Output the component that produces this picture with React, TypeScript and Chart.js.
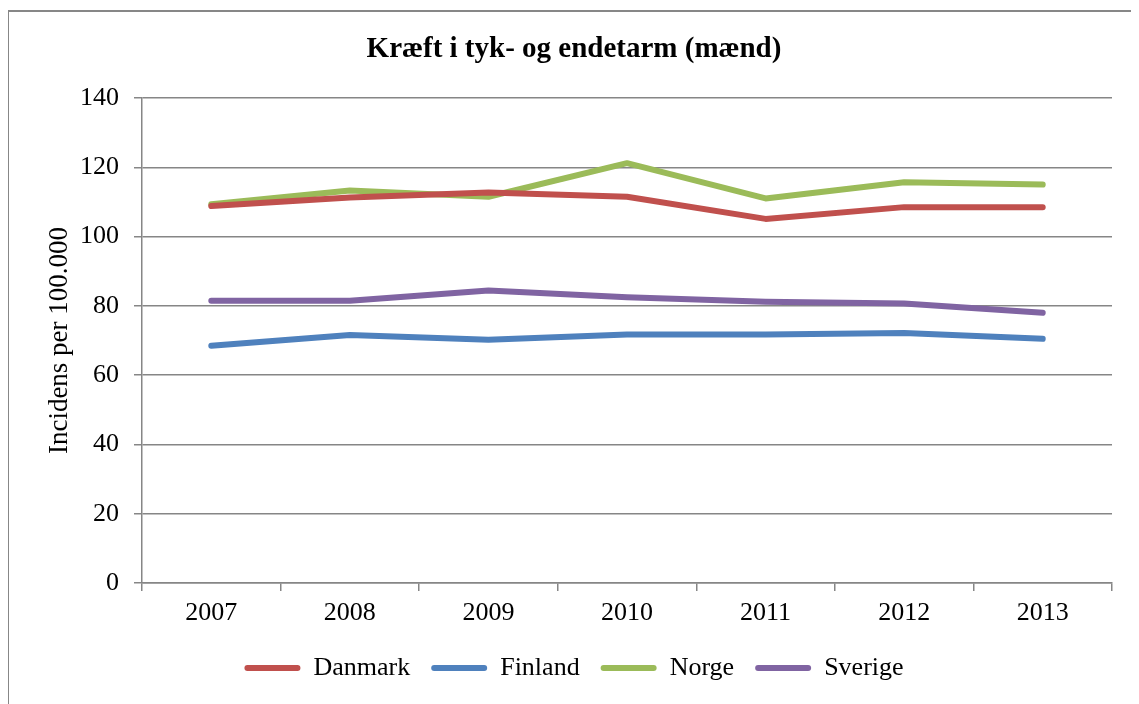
import React, { useEffect, useRef } from "react";
import { Chart, registerables } from "chart.js";

Chart.register(...registerables);

const years = ["2007", "2008", "2009", "2010", "2011", "2012", "2013"];
const danmark = [108.8, 111.3, 112.7, 111.5, 105.1, 108.5, 108.5];
const finland = [68.5, 71.6, 70.2, 71.7, 71.7, 72.2, 70.5];
const norge = [109.3, 113.3, 111.5, 121.2, 111.0, 115.7, 115.0];
const sverige = [81.5, 81.5, 84.4, 82.5, 81.2, 80.7, 78.0];

const seriesNames = ["Danmark", "Finland", "Norge", "Sverige"];
const seriesColors = ["#C0504D", "#4F81BD", "#9BBB59", "#8064A2"];
const yTicks = [0, 20, 40, 60, 80, 100, 120, 140];

const FONT = "'Liberation Serif', 'Times New Roman', serif";
const GRID = "#868686";

export default function App() {
  const ref = useRef<HTMLCanvasElement | null>(null);

  useEffect(() => {
    document.documentElement.style.overflow = "hidden";
    document.body.style.overflow = "hidden";
    const values = [danmark, finland, norge, sverige];
    const chart = new Chart(ref.current!, {
      type: "line",
      data: {
        labels: years,
        datasets: values.map((d, i) => ({
          label: seriesNames[i],
          data: d,
          borderColor: seriesColors[i],
          backgroundColor: seriesColors[i],
          borderWidth: 6,
          borderCapStyle: "round",
          borderJoinStyle: "round",
          pointRadius: 0,
          tension: 0,
        })),
      },
      options: {
        animation: false,
        responsive: false,
        maintainAspectRatio: false,
        layout: { padding: { left: 0, right: 0, top: 0, bottom: 13 } },
        plugins: {
          title: {
            display: true,
            text: "Kræft i tyk- og endetarm (mænd)",
            color: "#000",
            font: { family: FONT, size: 29, weight: "bold", lineHeight: 1.2 },
            padding: { top: 20, bottom: 31.2 },
          },
          legend: {
            position: "bottom",
            labels: {
              boxWidth: 56,
              boxHeight: 6,
              padding: 21,
              color: "#000",
              font: { family: FONT, size: 26 },
              useBorderRadius: true,
              borderRadius: 3,
              generateLabels: (c: any) =>
                c.data.datasets.map((ds: any, i: number) => ({
                  text: ds.label,
                  fillStyle: ds.borderColor,
                  strokeStyle: ds.borderColor,
                  lineWidth: 0,
                  hidden: false,
                  datasetIndex: i,
                  borderRadius: 3,
                  fontColor: "#000",
                })),
            },
          },
          tooltip: { enabled: false },
        },
        scales: {
          x: {
            offset: true,
            grid: {
              drawOnChartArea: false,
              drawTicks: true,
              tickLength: 8,
              color: GRID,
              lineWidth: 1.5,
              offset: true,
            },
            border: { display: true, color: GRID, width: 1.5 },
            ticks: { color: "#000", font: { family: FONT, size: 26 }, padding: 7 },
            afterFit: (s: any) => {
              s.height = 51;
            },
          },
          y: {
            min: 0,
            max: 140,
            afterBuildTicks: (s: any) => {
              s.ticks = yTicks.map((v) => ({ value: v }));
            },
            ticks: { color: "#000", font: { family: FONT, size: 26 }, padding: 15 },
            grid: { color: GRID, lineWidth: 1.5, tickLength: 8 },
            border: { display: true, color: GRID, width: 1.5 },
            title: {
              display: true,
              text: "Incidens per 100.000",
              color: "#000",
              font: { family: FONT, size: 27 },
              padding: { top: 35, bottom: 0 },
            },
            afterFit: (s: any) => {
              s.width = 133;
            },
          },
          yRight: {
            position: "right",
            display: true,
            min: 0,
            max: 140,
            grid: { display: false, drawTicks: false },
            border: { display: false },
            ticks: { display: false },
            afterFit: (s: any) => {
              s.width = 27;
            },
          },
        },
      },
    } as any);
    return () => chart.destroy();
  }, []);

  return (
    <div
      style={{
        position: "relative",
        top: 2,
        left: -1,
        width: 1130,
        height: 700,
        borderTop: "2px solid #878787",
        borderLeft: "2px solid #878787",
        background: "#fff",
      }}
    >
      <canvas ref={ref} width={1130} height={692} style={{ display: "block" }} />
    </div>
  );
}
